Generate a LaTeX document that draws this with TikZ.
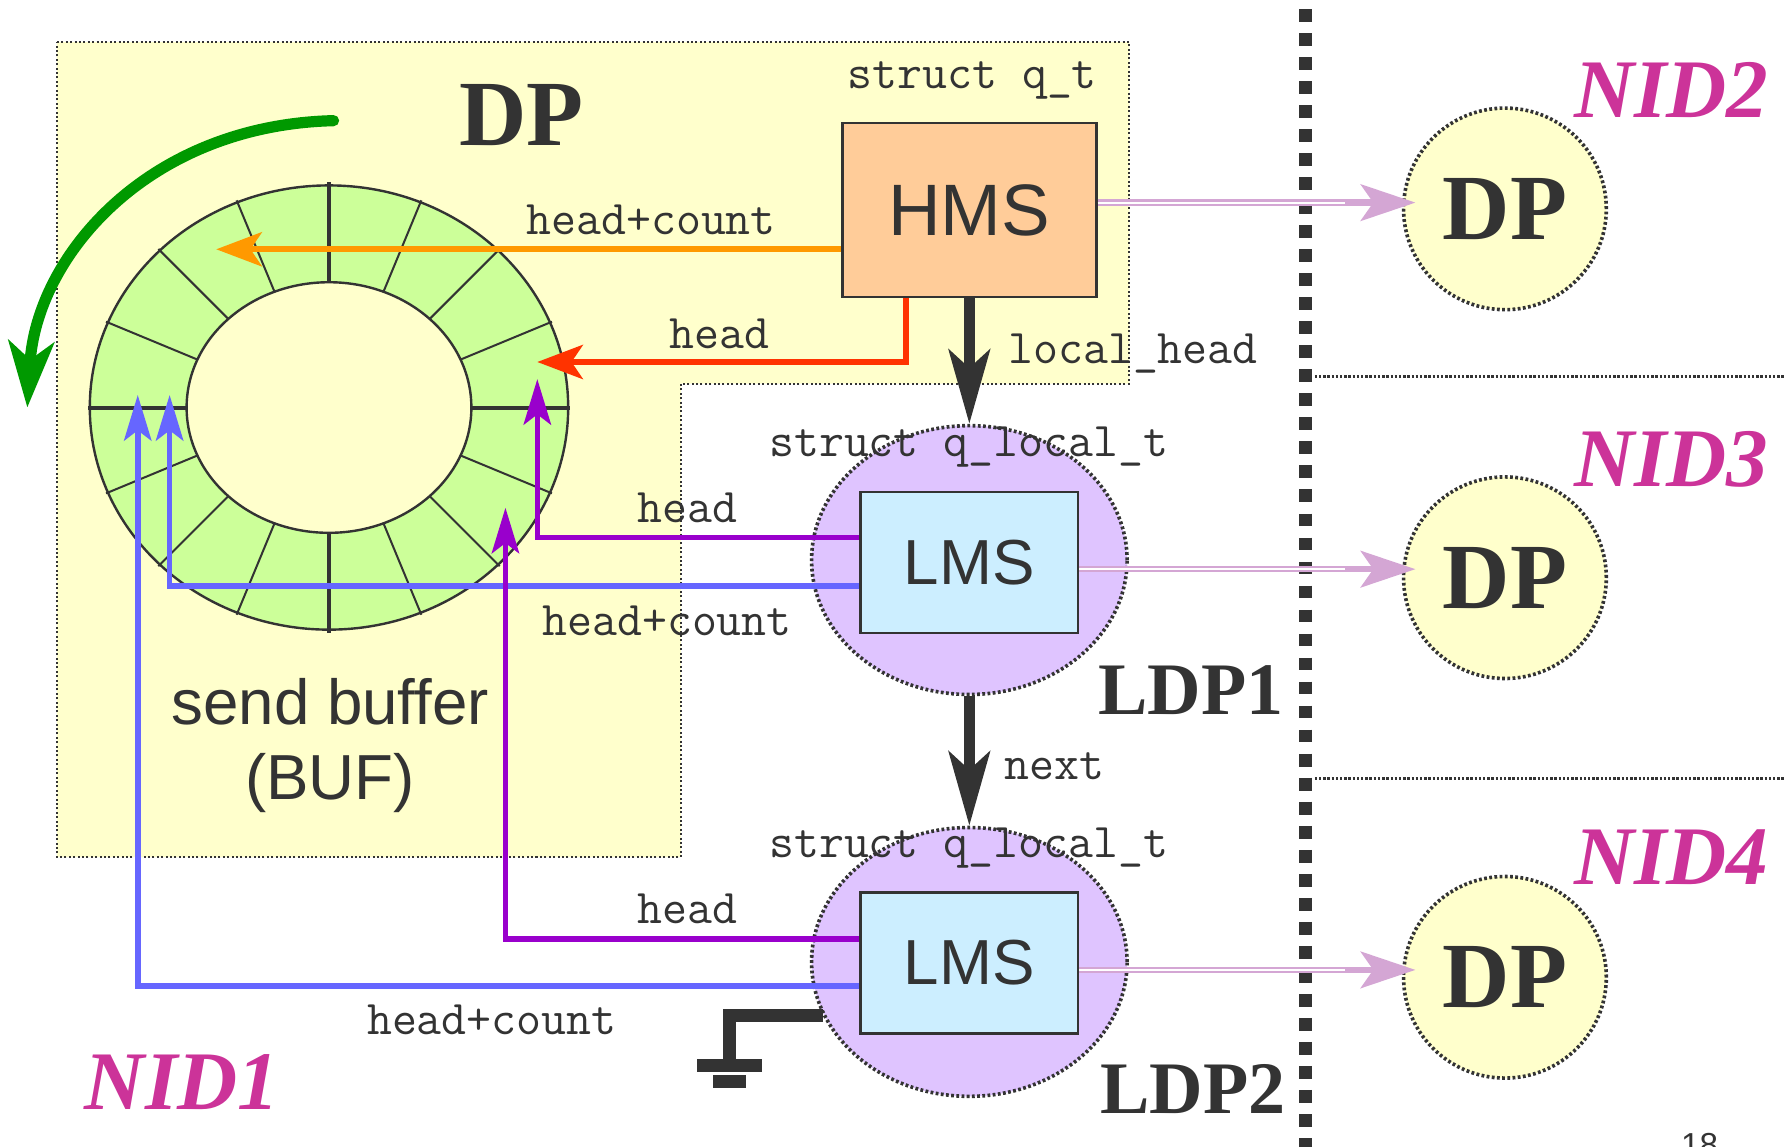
\documentclass[tikz,border=0pt]{standalone}
\usepackage{fontspec}
\setmainfont{Liberation Serif}
\setsansfont{Liberation Sans}
\usetikzlibrary{arrows.meta,shapes.geometric,calc}
\definecolor{bgyellow}{HTML}{FFFFCC}
\definecolor{ringgreen}{HTML}{CCFF99}
\definecolor{peach}{HTML}{FFCC99}
\definecolor{lightblue}{HTML}{CCEEFF}
\definecolor{lilacfill}{HTML}{DFC4FF}
\definecolor{arrorange}{HTML}{FF9900}
\definecolor{arrred}{HTML}{FF3300}
\definecolor{arrpurple}{HTML}{9900CC}
\definecolor{arrblue}{HTML}{6666FF}
\definecolor{ink}{HTML}{333333}
\definecolor{arrgreen}{HTML}{009900}
\definecolor{nidmag}{HTML}{CC3399}
\definecolor{lilac}{HTML}{D4A6D4}
\tikzset{
 yellowdots/.style={draw=ink, line width=0.5pt, dash pattern=on 0.5pt off 0.6pt},
 elldots/.style={draw=ink, line width=0.9pt, dash pattern=on 0.7pt off 0.6pt},
 hmsbox/.style={rectangle, draw=ink, line width=0.6pt, fill=peach, minimum width=2.23cm, minimum height=1.53cm, inner sep=0, font=\sffamily\fontsize{18.2pt}{20pt}\selectfont, text=ink},
 lmsbox/.style={rectangle, draw=ink, line width=0.6pt, fill=lightblue, minimum width=1.91cm, minimum height=1.24cm, inner sep=0, font=\sffamily\fontsize{15.9pt}{18pt}\selectfont, text=ink},
 ldpell/.style={ellipse, elldots, fill=lilacfill, minimum width=2.77cm, minimum height=2.36cm, inner sep=0},
 dpell/.style={ellipse, elldots, fill=bgyellow, minimum width=1.78cm, minimum height=1.77cm, inner sep=0, font=\bfseries\fontsize{23.3pt}{28pt}\selectfont, text=ink},
 monolbl/.style={font=\ttfamily\fontsize{12.1pt}{14pt}\selectfont, text=ink, inner sep=0, anchor=base},
 ldplbl/.style={font=\bfseries\fontsize{18.5pt}{22pt}\selectfont, text=ink, inner sep=0, anchor=base},
 nidlbl/.style={font=\bfseries\itshape\fontsize{20.8pt}{24pt}\selectfont, text=nidmag, inner sep=0, anchor=base},
 buflbl/.style={font=\sffamily\fontsize{15.9pt}{18pt}\selectfont, text=ink, inner sep=0, anchor=base},
 thinarrow/.style={line width=1.4pt, -{Stealth[length=4mm, width=2.4mm, inset=0.9mm]}},
 midarrow/.style={line width=1.4pt, -{Stealth[length=4mm, width=3mm, inset=1mm]}},
 bigarrow/.style={draw=ink, line width=2.8pt, -{Stealth[length=6.5mm, width=3.6mm, inset=1.6mm]}},
 lilacarrow/.style={draw=lilac, line width=1.6pt, -{Stealth[length=4.8mm, width=3.2mm, inset=1.1mm]}, postaction={draw=white, line width=0.5pt, shorten >=5mm, -}},
}
\begin{document}
\begin{tikzpicture}[x=0.01cm,y=-0.01cm]
\useasboundingbox (0,0) rectangle (1568,1007);

% DP region (L-shaped)
\draw[yellowdots, fill=bgyellow] (50,37) -- (992,37) -- (992,337) -- (598,337) -- (598,753) -- (50,753) -- cycle;

% ring buffer
\coordinate (ringc) at (289,358);
\fill[ringgreen, even odd rule] (ringc) ellipse [x radius=2.1cm, y radius=1.95cm] (ringc) ellipse [x radius=1.25cm, y radius=1.1cm];
\draw[ink, line width=0.6pt] (ringc) ellipse [x radius=2.1cm, y radius=1.95cm];
\draw[ink, line width=0.6pt] (ringc) ellipse [x radius=1.25cm, y radius=1.1cm];
\foreach \a in {22.5,45,67.5,112.5,135,157.5,202.5,225,247.5,292.5,315,337.5}
  \draw[ink, line width=0.5pt] ({289+125*cos(\a)},{358-110*sin(\a)}) -- ({289+212*cos(\a)},{358-197*sin(\a)});
\foreach \a in {0,90,180,270}
  \draw[ink, line width=1pt] ({289+125*cos(\a)},{358-110*sin(\a)}) -- ({289+212*cos(\a)},{358-198*sin(\a)});

\node[buflbl] (buf1) at (290,636) {send buffer};
\node[buflbl] (buf2) at (290,702) {(BUF)};

% big DP label
\node[font=\bfseries\fontsize{23.3pt}{28pt}\selectfont, text=ink, inner sep=0, anchor=base] (dplbl) at (458,128) {DP};

% green rotation arrow
\coordinate (gS) at (293,106);
\coordinate (gE) at (24,358);
\draw[arrgreen, line width=2.8pt, line cap=round, -{Stealth[length=5.8mm, width=4mm, inset=1.6mm]}] (gS) .. controls (130,110) and (32,225) .. (gE);

% separators
\coordinate (sepT) at (1147,8);
\coordinate (sepB) at (1147,1010);
\draw[ink, line width=3.2pt, dash pattern=on 3.2pt off 2.8pt] (sepT) -- (sepB);
\coordinate (h1a) at (1155,331); \coordinate (h1b) at (1568,331);
\coordinate (h2a) at (1155,684); \coordinate (h2b) at (1568,684);
\draw[ink, line width=0.8pt, dash pattern=on 0.6pt off 0.45pt] (h1a) -- (h1b);
\draw[ink, line width=0.8pt, dash pattern=on 0.6pt off 0.45pt] (h2a) -- (h2b);

% nodes
\node[hmsbox] (hms) at (851.5,184.5) {HMS};
\node[monolbl] (sqt) at (854,78) {struct q\_t};

\node[ldpell] (ldp1) at (851.5,492) {};
\node[lmsbox] (lms1) at (851.5,494) {LMS};
\node[monolbl] (sql1) at (851,401) {struct q\_local\_t};
\node[ldplbl] (ldp1lbl) at (1046,628) {LDP1};

\node[ldpell] (ldp2) at (851.5,845) {};
\node[lmsbox] (lms2) at (851.5,846) {LMS};
\node[monolbl] (sql2) at (851,753) {struct q\_local\_t};
\node[ldplbl] (ldp2lbl) at (1048,978) {LDP2};

\node[dpell] (dp2) at (1322,183.5) {DP};
\node[dpell] (dp3) at (1322,507.5) {DP};
\node[dpell] (dp4) at (1322,858.5) {DP};

\node[nidlbl] (nid1) at (160,975) {NID1};
\node[nidlbl] (nid2) at (1468,103) {NID2};
\node[nidlbl] (nid3) at (1468,427) {NID3};
\node[nidlbl] (nid4) at (1468,777) {NID4};

% HMS arrows
\coordinate (oTip) at (190,219);
\draw[arrorange, midarrow] (hms.west |- oTip) -- (oTip);
\node[monolbl] (lblo) at (572,206) {head+count};

\coordinate (rC) at (796,318);
\coordinate (rTip) at (472,318);
\draw[arrred, midarrow] (hms.south -| rC) -- (rC) -- (rTip);
\node[monolbl] (lblr) at (632,306) {head};

\draw[bigarrow] (hms.south) -- (ldp1.north);
\node[monolbl, anchor=base west] (lbllh) at (885,319) {local\_head};

\draw[bigarrow] (ldp1.south) -- (ldp2.north);
\node[monolbl, anchor=base west] (lblnext) at (882,685) {next};

% LMS1 arrows
\coordinate (p1C) at (472,472);
\coordinate (p1Tip) at (472,333);
\draw[arrpurple, thinarrow] (lms1.west |- p1C) -- (p1C) -- (p1Tip);
\node[monolbl] (lblp1) at (604,459) {head};

\coordinate (b1C) at (149,515);
\coordinate (b1Tip) at (149,347);
\draw[arrblue, thinarrow] (lms1.west |- b1C) -- (b1C) -- (b1Tip);
\node[monolbl] (lblb1) at (586,558) {head+count};

% LMS2 arrows
\coordinate (p2C) at (444,825);
\coordinate (p2Tip) at (444,446);
\draw[arrpurple, thinarrow] (lms2.west |- p2C) -- (p2C) -- (p2Tip);
\node[monolbl] (lblp2) at (604,811) {head};

\coordinate (b2C) at (121,866);
\coordinate (b2Tip) at (121,347);
\draw[arrblue, thinarrow] (lms2.west |- b2C) -- (b2C) -- (b2Tip);
\node[monolbl] (lblb2) at (432,909) {head+count};

% lilac arrows to remote DPs
\coordinate (l0) at (0,178);
\draw[lilacarrow, shorten >=-1.2mm] (hms.east |- l0) -- (dp2.west |- l0);
\coordinate (l1) at (0,500);
\draw[lilacarrow, shorten >=-1.2mm] (lms1.east |- l1) -- (dp3.west |- l1);
\coordinate (l2) at (0,852);
\draw[lilacarrow, shorten >=-1.2mm] (lms2.east |- l2) -- (dp4.west |- l2);

% ground
\coordinate (gnd) at (640.5,930);
\draw[ink, line width=3.2pt] (ldp2.200.8) -- (ldp2.200.8 -| gnd) -- (gnd);
\fill[ink] (612,930) rectangle (669,942);
\fill[ink] (626,944) rectangle (655,956);

% page number (cut by the lower edge, as in the reference)
\node[font=\sffamily\fontsize{8.3pt}{10pt}\selectfont, text=ink, inner sep=0, anchor=base] (pg) at (1493,1016) {18};
\end{tikzpicture}
\end{document}
